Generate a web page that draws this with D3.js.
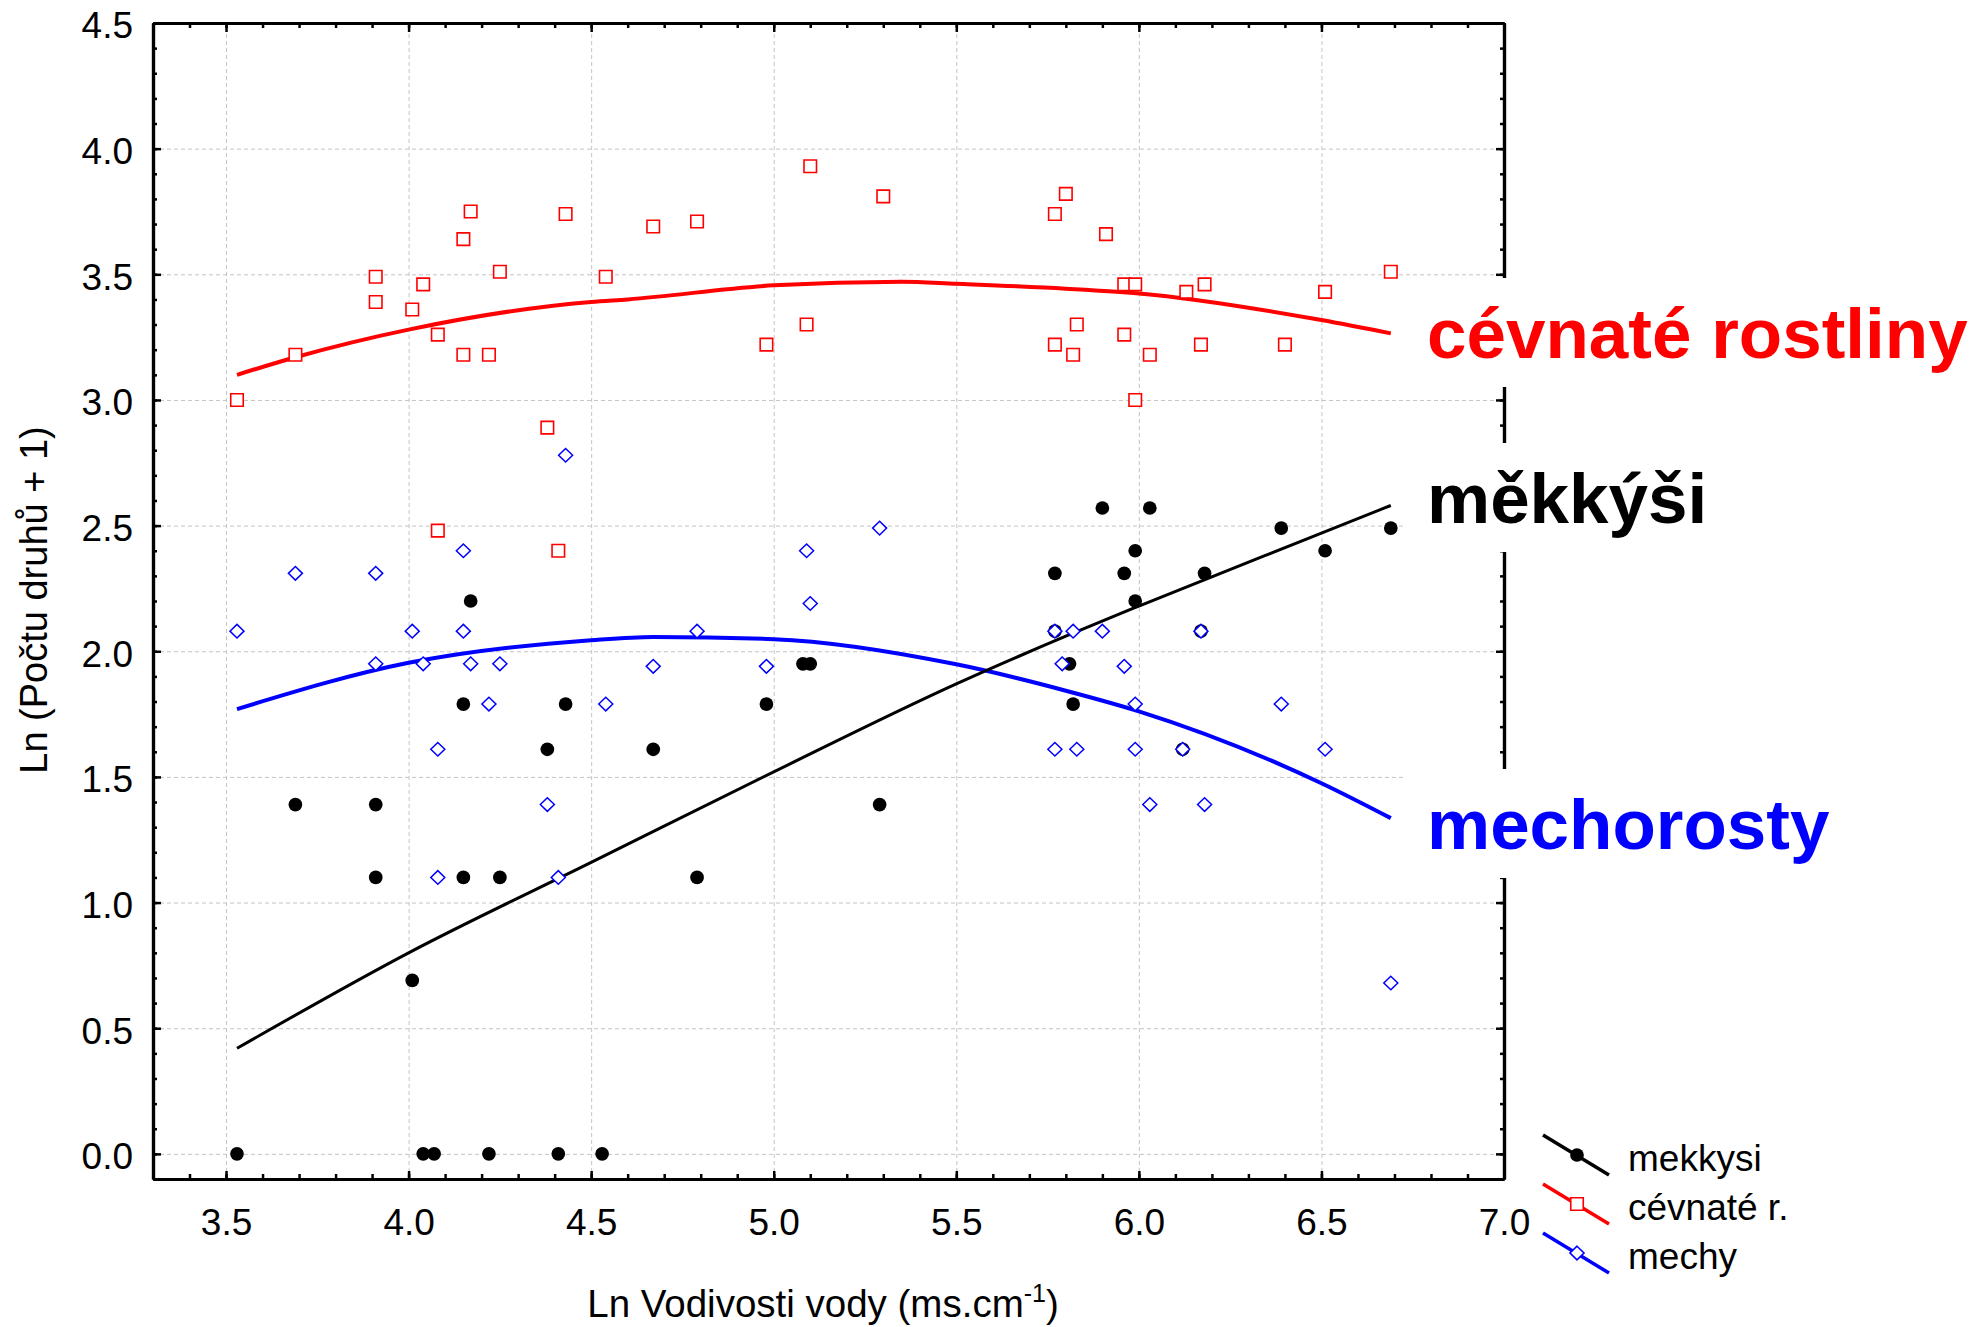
<!DOCTYPE html>
<html lang="cs">
<head>
<meta charset="UTF-8">
<title>Ln Vodivosti vody</title>
<script src="https://d3js.org/d3.v7.min.js"></script>
<style>
  body { margin: 0; background: #fff; }
  svg text { font-family: "Liberation Sans", Arial, sans-serif; }
  .grid line { stroke: #c4c4c4; stroke-width: 1; stroke-dasharray: 4,3; }
  .grid path { display: none; }
  .axis path { stroke: #000; stroke-width: 3.2; }
  .axis line { stroke: #000; stroke-width: 2.5; }
  .axis text { font-size: 37px; fill: #000; }
</style>
</head>
<body>
<svg id="chart" width="1987" height="1327"></svg>
<script>
// --- data: Ln conductivity (x) vs Ln(species + 1) (y) ---
// mekkysi (black dots)
var mekkysiX = [3.53,3.69,3.91,3.91,4.01,4.04,4.07,4.15,4.15,4.17,4.22,4.25,4.38,4.41,4.43,4.53,4.67,4.79,4.98,5.08,
                5.10,5.29,5.77,5.77,5.81,5.82,5.90,5.96,5.99,5.99,6.03,6.12,6.17,6.18,6.39,6.51,6.69];
var mekkysiY = [0.00,1.39,1.39,1.10,0.69,0.00,0.00,1.79,1.10,2.20,0.00,1.10,1.61,0.00,1.79,0.00,1.61,1.10,1.79,1.95,
                1.95,1.39,2.31,2.08,1.95,1.79,2.57,2.31,2.40,2.20,2.57,1.61,2.08,2.31,2.49,2.40,2.49];

// cevnate rostliny (red squares)
var cevnateX = [3.53,3.69,3.91,3.91,4.01,4.04,4.08,4.08,4.15,4.15,4.17,4.22,4.25,4.38,4.41,4.43,4.54,4.67,4.79,4.98,
                5.09,5.10,5.30,5.77,5.77,5.80,5.82,5.83,5.91,5.96,5.96,5.99,5.99,6.03,6.13,6.17,6.18,6.40,6.51,6.69];
var cevnateY = [3.00,3.18,3.49,3.39,3.36,3.46,3.26,2.48,3.64,3.18,3.75,3.18,3.51,2.89,2.40,3.74,3.49,3.69,3.71,3.22,
                3.30,3.93,3.81,3.74,3.22,3.82,3.18,3.30,3.66,3.46,3.26,3.46,3.00,3.18,3.43,3.22,3.46,3.22,3.43,3.51];

// mechy (blue diamonds)
var mechyX = [3.53,3.69,3.91,3.91,4.01,4.04,4.08,4.08,4.15,4.15,4.17,4.22,4.25,4.38,4.41,4.43,4.54,4.67,4.79,4.98,
              5.09,5.10,5.29,5.77,5.77,5.79,5.82,5.83,5.90,5.96,5.99,5.99,6.03,6.12,6.17,6.18,6.39,6.51,6.69];
var mechyY = [2.08,2.31,2.31,1.95,2.08,1.95,1.61,1.10,2.40,2.08,1.95,1.79,1.95,1.39,1.10,2.78,1.79,1.94,2.08,1.94,
              2.40,2.19,2.49,2.08,1.61,1.95,2.08,1.61,2.08,1.94,1.79,1.61,1.39,1.61,2.08,1.39,1.79,1.61,0.68];

// fitted curves
var mekkysiFitX = [3.53, 4.0, 4.5, 5.0, 5.5, 5.8, 6.0, 6.5, 6.69];
var mekkysiFitY = [0.42, 0.80, 1.16, 1.52, 1.87, 2.06, 2.18, 2.47, 2.58];
var cevnateFitX = [3.53, 3.69, 4.0, 4.5, 4.6, 5.0, 5.35, 5.5, 5.8, 6.0, 6.5, 6.69];
var cevnateFitY = [3.10, 3.17, 3.28, 3.39, 3.40, 3.456, 3.47, 3.462, 3.443, 3.424, 3.318, 3.265];
var mechyFitX = [3.53, 4.0, 4.5, 4.67, 5.0, 5.5, 5.8, 6.0, 6.5, 6.69];
var mechyFitY = [1.77, 1.954, 2.044, 2.057, 2.048, 1.948, 1.843, 1.761, 1.475, 1.336];

// ticks
var xTicks = [3.5, 4.0, 4.5, 5.0, 5.5, 6.0, 6.5, 7.0];
var yTicks = [0.0, 0.5, 1.0, 1.5, 2.0, 2.5, 3.0, 3.5, 4.0, 4.5];
var xMinor = d3.range(33, 71).map(function(d) { return d / 10; });
var yMinor = d3.range(-1, 46).map(function(d) { return d / 10; });

var legendNames = ["mekkysi", "cévnaté r.", "mechy"];
var bigLabels = ["cévnaté rostliny", "měkkýši", "mechorosty"];

// --- layout ---
var svg = d3.select("#chart");
var plotLeft = 153, plotRight = 1504, plotTop = 23, plotBottom = 1179;

var x = d3.scaleLinear().domain([3.3, 7.0]).range([plotLeft, plotRight]);
var y = d3.scaleLinear().domain([-0.1, 4.5]).range([plotBottom, plotTop]);

var colors = { mekkysi: "#000000", cevnate: "#ff0000", mechy: "#0000ff" };

function zip(xs, ys) { return xs.map(function(d, i) { return [d, ys[i]]; }); }

// grid
svg.append("g").attr("class", "grid")
  .attr("transform", "translate(0," + plotBottom + ")")
  .call(d3.axisBottom(x).tickValues(xTicks.slice(0, -1)).tickSize(-(plotBottom - plotTop)).tickFormat(""));
svg.append("g").attr("class", "grid")
  .attr("transform", "translate(" + plotLeft + ",0)")
  .call(d3.axisLeft(y).tickValues(yTicks.slice(0, -1)).tickSize(-(plotRight - plotLeft)).tickFormat(""));

// fit lines
var line = d3.line()
  .x(function(d) { return x(d[0]); })
  .y(function(d) { return y(d[1]); })
  .curve(d3.curveMonotoneX);

svg.append("path").datum(zip(cevnateFitX, cevnateFitY))
  .attr("d", line).attr("fill", "none").attr("stroke", colors.cevnate).attr("stroke-width", 4);
svg.append("path").datum(zip(mechyFitX, mechyFitY))
  .attr("d", line).attr("fill", "none").attr("stroke", colors.mechy).attr("stroke-width", 4);
svg.append("path").datum(zip(mekkysiFitX, mekkysiFitY))
  .attr("d", line).attr("fill", "none").attr("stroke", colors.mekkysi).attr("stroke-width", 3);

// marker shapes
var diamond = {
  draw: function(ctx, size) {
    var h = Math.sqrt(size) / 2, w = h * 1.03;
    ctx.moveTo(0, -h); ctx.lineTo(w, 0); ctx.lineTo(0, h); ctx.lineTo(-w, 0); ctx.closePath();
  }
};
var circleSym = d3.symbol().type(d3.symbolCircle).size(Math.PI * 47);
var squareSym = d3.symbol().type(d3.symbolSquare).size(12.5 * 12.5);
var diamondSym = d3.symbol().type(diamond).size(13.6 * 13.6);

function pos(d) { return "translate(" + x(d[0]) + "," + y(d[1]) + ")"; }

svg.append("g").selectAll("path")
  .data(zip(mekkysiX, mekkysiY)).enter().append("path")
    .attr("d", circleSym).attr("transform", pos)
    .attr("fill", colors.mekkysi);

svg.append("g").selectAll("path")
  .data(zip(cevnateX, cevnateY)).enter().append("path")
    .attr("d", squareSym).attr("transform", pos)
    .attr("fill", "#fff").attr("stroke", colors.cevnate).attr("stroke-width", 1.6);

svg.append("g").selectAll("path")
  .data(zip(mechyX, mechyY)).enter().append("path")
    .attr("d", diamondSym).attr("transform", pos)
    .attr("fill", "#fff").attr("stroke", colors.mechy).attr("stroke-width", 1.5);

// axes: major + minor ticks pointing inwards
var fmt = d3.format(".1f");
svg.append("g").attr("class", "axis")
  .attr("transform", "translate(0," + plotBottom + ")")
  .call(d3.axisBottom(x).tickValues(xTicks).tickSize(-8).tickSizeOuter(0).tickPadding(30).tickFormat(fmt));
svg.append("g").attr("class", "axis")
  .attr("transform", "translate(0," + plotBottom + ")")
  .call(d3.axisBottom(x).tickValues(xMinor).tickSize(-5).tickSizeOuter(0).tickFormat(""));
svg.append("g").attr("class", "axis")
  .attr("transform", "translate(" + plotLeft + ",0)")
  .call(d3.axisLeft(y).tickValues(yTicks).tickSize(-8).tickSizeOuter(0).tickPadding(20).tickFormat(fmt))
  .selectAll("text").attr("dy", "0.4em");
svg.append("g").attr("class", "axis")
  .attr("transform", "translate(" + plotLeft + ",0)")
  .call(d3.axisLeft(y).tickValues(yMinor).tickSize(-4).tickSizeOuter(0).tickFormat(""));
svg.append("g").attr("class", "axis")
  .attr("transform", "translate(0," + plotTop + ")")
  .call(d3.axisTop(x).tickValues(xTicks).tickSize(-9).tickSizeOuter(0).tickFormat(""));
svg.append("g").attr("class", "axis")
  .attr("transform", "translate(0," + plotTop + ")")
  .call(d3.axisTop(x).tickValues(xMinor).tickSize(-5).tickSizeOuter(0).tickFormat(""));
svg.append("g").attr("class", "axis")
  .attr("transform", "translate(" + plotRight + ",0)")
  .call(d3.axisRight(y).tickValues(yTicks).tickSize(-8).tickSizeOuter(0).tickFormat(""));
svg.append("g").attr("class", "axis")
  .attr("transform", "translate(" + plotRight + ",0)")
  .call(d3.axisRight(y).tickValues(yMinor).tickSize(-4).tickSizeOuter(0).tickFormat(""));

// big group labels on white boxes (they cut the right axis)
var labelBase = [358, 523, 849];
var labelColor = [colors.cevnate, colors.mekkysi, colors.mechy];
bigLabels.forEach(function(t, i) {
  svg.append("rect")
    .attr("x", 1404).attr("y", labelBase[i] - 80)
    .attr("width", 583).attr("height", 109)
    .attr("fill", "#fff");
  svg.append("text")
    .attr("x", 1427).attr("y", labelBase[i])
    .attr("font-size", 71).attr("font-weight", "bold")
    .attr("fill", labelColor[i])
    .text(t);
});

// legend
var legendColor = [colors.mekkysi, colors.cevnate, colors.mechy];
var legendSym = [circleSym, squareSym, diamondSym];
legendNames.forEach(function(name, i) {
  var y0 = 1135 + i * 49;
  var g = svg.append("g");
  g.append("line")
    .attr("x1", 1543).attr("y1", y0).attr("x2", 1609).attr("y2", y0 + 40)
    .attr("stroke", legendColor[i]).attr("stroke-width", 3.5);
  var m = g.append("path")
    .attr("d", legendSym[i])
    .attr("transform", "translate(1577," + (y0 + 20) + ")");
  if (i === 0) m.attr("fill", legendColor[i]);
  else m.attr("fill", "#fff").attr("stroke", legendColor[i]).attr("stroke-width", 1.6);
  g.append("text")
    .attr("x", 1628).attr("y", y0 + 36)
    .attr("font-size", 37)
    .text(name);
});

// axis titles
var xt = svg.append("text")
  .attr("x", 823).attr("y", 1317)
  .attr("text-anchor", "middle")
  .attr("font-size", 38.5);
xt.append("tspan").text("Ln Vodivosti vody (ms.cm");
xt.append("tspan").attr("font-size", 25).attr("dy", -15).text("-1");
xt.append("tspan").attr("dy", 15).text(")");

svg.append("text")
  .attr("transform", "translate(47,600) rotate(-90)")
  .attr("text-anchor", "middle")
  .attr("font-size", 38)
  .text("Ln (Počtu druhů + 1)");
</script>
</body>
</html>
